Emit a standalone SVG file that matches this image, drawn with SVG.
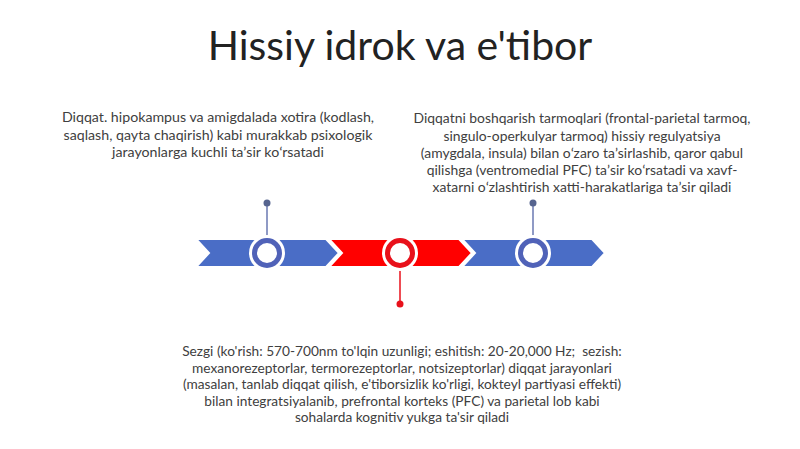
<svg xmlns="http://www.w3.org/2000/svg" width="800" height="449" viewBox="0 0 800 449">
<style>
.t{font-family:Lato,"Noto Sans","Liberation Sans",sans-serif;fill:#404040;font-size:14.2px;text-anchor:middle;white-space:pre}
.t2{font-size:13.7px}
.t3{font-size:13.9px}
.title{font-family:Lato,"Noto Sans","Liberation Sans",sans-serif;fill:#222;font-size:41px;text-anchor:middle}
.cb{fill:#4a6dc6;stroke:#fff;stroke-width:2}
.cr{fill:#ff0000;stroke:#fff;stroke-width:2}
.halo{fill:#fff}
.rb{fill:#fff;stroke:#5062b8;stroke-width:5}
.rr{fill:#fff;stroke:#e8111b;stroke-width:5}
</style>
<rect width="800" height="449" fill="#fff"/>
<text class="title" x="400" y="60">Hissiy idrok va e'tibor</text>
<g id="chevrons">
<polygon class="cb" points="196,239 326,239 339,253 326,267 196,267 209,253"/>
<polygon class="cr" points="329,239 459,239 472,253 459,267 329,267 342,253"/>
<polygon class="cb" points="462,239 592,239 605,253 592,267 462,267 475,253"/>
</g>
<g id="connectors">
<line x1="267" y1="203" x2="267" y2="238" stroke="#6a78b2" stroke-width="1.5"/>
<circle cx="267" cy="203" r="3.5" fill="#56648f"/>
<line x1="533" y1="203" x2="533" y2="238" stroke="#6a78b2" stroke-width="1.5"/>
<circle cx="533" cy="203" r="3.5" fill="#56648f"/>
<line x1="400" y1="268" x2="400" y2="304" stroke="#e8111b" stroke-width="1.5"/>
<circle cx="400" cy="304" r="3.5" fill="#e8111b"/>
</g>
<g id="node1">
<circle class="halo" cx="267" cy="253" r="18"/>
<circle class="rb" cx="267" cy="253" r="12.5"/>
<text class="t"><tspan x="218" y="122">Diqqat. hipokampus va amigdalada xotira (kodlash,</tspan><tspan x="218" y="140">saqlash, qayta chaqirish) kabi murakkab psixologik</tspan><tspan x="218" y="157">jarayonlarga kuchli taʼsir koʻrsatadi</tspan></text>
</g>
<g id="node2">
<circle class="halo" cx="400" cy="253" r="18"/>
<circle class="rr" cx="400" cy="253" r="12.5"/>
<text class="t t2"><tspan x="402" y="356">Sezgi (ko'rish: 570-700nm to'lqin uzunligi; eshitish: 20-20,000 Hz;  sezish:</tspan><tspan x="402" y="373">mexanorezeptorlar, termorezeptorlar, notsizeptorlar) diqqat jarayonlari</tspan><tspan x="402" y="389">(masalan, tanlab diqqat qilish, e'tiborsizlik ko'rligi, kokteyl partiyasi effekti)</tspan><tspan x="402" y="406">bilan integratsiyalanib, prefrontal korteks (PFC) va parietal lob kabi</tspan><tspan x="402" y="422">sohalarda kognitiv yukga ta'sir qiladi</tspan></text>
</g>
<g id="node3">
<circle class="halo" cx="533" cy="253" r="18"/>
<circle class="rb" cx="533" cy="253" r="12.5"/>
<text class="t t3"><tspan x="582" y="123">Diqqatni boshqarish tarmoqlari (frontal-parietal tarmoq,</tspan><tspan x="582" y="141">singulo-operkulyar tarmoq) hissiy regulyatsiya</tspan><tspan x="582" y="158">(amygdala, insula) bilan oʻzaro taʼsirlashib, qaror qabul</tspan><tspan x="582" y="175">qilishga (ventromedial PFC) taʼsir koʻrsatadi va xavf-</tspan><tspan x="582" y="192">xatarni oʻzlashtirish xatti-harakatlariga taʼsir qiladi</tspan></text>
</g>
</svg>
